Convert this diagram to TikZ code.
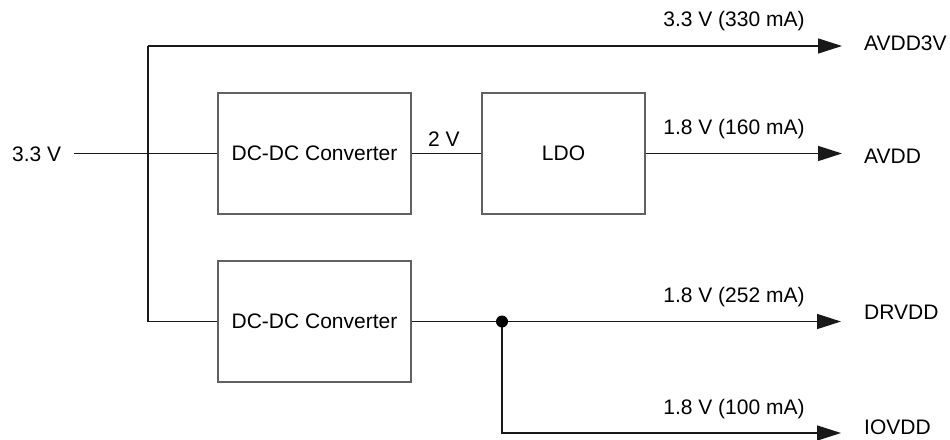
\documentclass[tikz,border=0pt]{standalone}
\usepackage{fontspec}
\setmainfont{Liberation Sans}
\usetikzlibrary{arrows.meta}
\begin{document}
\begin{tikzpicture}[x=1pt,y=-1pt,
  font=\fontsize{21}{25}\selectfont,
  blk/.style={draw=black!62, line width=2.3pt, minimum width=193pt, minimum height=121pt, inner sep=0pt},
  wire/.style={draw=black!90, line width=1.5pt},
  arr/.style={wire, -{Triangle[length=24pt,width=15pt]}},
  lbl/.style={anchor=base, inner sep=0pt},
  outlbl/.style={anchor=base west, inner sep=0pt}]
\useasboundingbox (0,0) rectangle (950,439);
% blocks
\node[blk] (dc1) at (314.5,153.5) {DC-DC Converter};
\node[blk, minimum width=163pt] (ldo) at (563.5,153.5) {LDO};
\node[blk] (dc2) at (314.5,321.5) {DC-DC Converter};
% input
\node[anchor=base west, inner sep=0pt] (vin) at (12,161) {3.3 V};
\coordinate (inS) at (74,153.5);
\coordinate (jTop) at (148,46);
\coordinate (jBot) at (148,321.5);
\coordinate (eA3) at (842,46);
\coordinate (eA) at (842,153.5);
\coordinate (eD) at (841,321.5);
\coordinate (dot) at (502,321.5);
\coordinate (dotB) at (502,433);
\coordinate (eI) at (841,433);
% wires
\draw[wire] (inS) -- (dc1.west);
\draw[wire] (jTop) -- (jBot) -- (dc2.west);
\draw[arr] (jTop) -- (eA3);
\draw[wire] (dc1.east) -- (ldo.west);
\draw[arr] (ldo.east) -- (eA);
\draw[arr] (dc2.east) -- (eD);
\draw[arr] (dot) -- (dotB) -- (eI);
\fill (dot) circle (6pt);
% labels
\node[lbl] (l2v) at (444,146) {2 V};
\node[lbl] (l330) at (734,27) {3.3 V (330 mA)};
\node[lbl] (l160) at (734,134) {1.8 V (160 mA)};
\node[lbl] (l252) at (734,302.5) {1.8 V (252 mA)};
\node[lbl] (l100) at (734,414) {1.8 V (100 mA)};
\node[outlbl] (oA3) at (864,50) {AVDD3V};
\node[outlbl] (oA) at (864,163) {AVDD};
\node[outlbl] (oD) at (864,319) {DRVDD};
\node[outlbl] (oI) at (864,434) {IOVDD};
\end{tikzpicture}
\end{document}
